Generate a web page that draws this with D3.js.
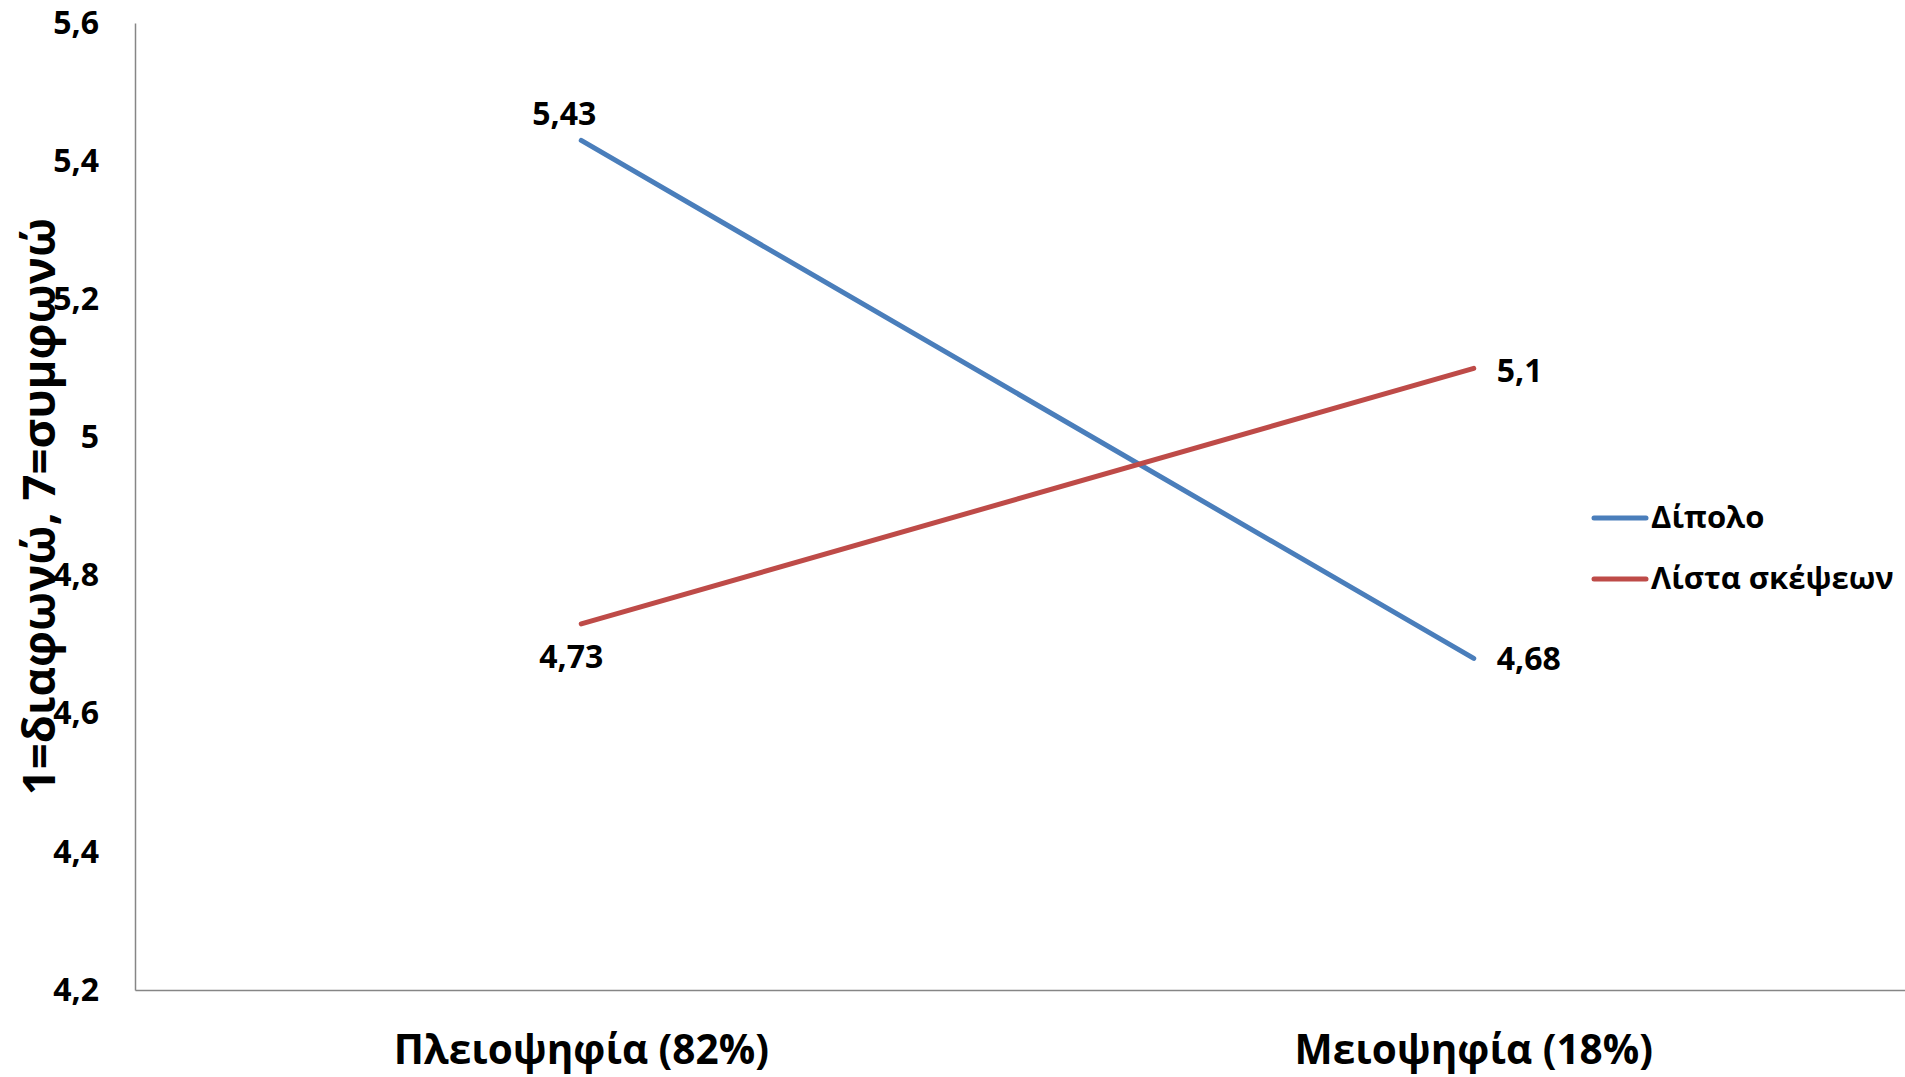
<!DOCTYPE html>
<html><head><meta charset="utf-8">
<script src="https://cdn.jsdelivr.net/npm/d3@7"></script>
<style>
html,body{margin:0;padding:0;background:#fff;}
text{font-family:"Open Sans",sans-serif;font-weight:700;fill:#000;}
</style></head>
<body><svg id="c" width="1905" height="1077"></svg>
<script>
const categories = ["Πλειοψηφία (82%)", "Μειοψηφία (18%)"];
const seriesNames = ["Δίπολο", "Λίστα σκέψεων"];
const dipoloValues = [5.43, 4.68];
const listaValues = [4.73, 5.1];
const dipoloLabels = ["5,43", "4,68"];
const listaLabels = ["4,73", "5,1"];
const yTicks = [4.2, 4.4, 4.6, 4.8, 5.0, 5.2, 5.4, 5.6];
const yTickLabels = ["4,2", "4,4", "4,6", "4,8", "5", "5,2", "5,4", "5,6"];
const yTitle = "1=διαφωνώ, 7=συμφωνώ";
const colors = ["#4a7ebb", "#be4b48"];

(function () {
const svg = d3.select("#c");
const mLeft = 135, mTop = 23, mBottom = 990, mRight = 1920;

const x = d3.scaleBand().domain(categories).range([mLeft, mRight]).padding(0);
const y = d3.scaleLinear().domain([4.2, 5.6]).range([mBottom, mTop]);
const cx = c => x(c) + x.bandwidth() / 2;

// y axis
const yAxis = svg.append("g").attr("transform", `translate(${mLeft},0)`)
  .call(d3.axisLeft(y).tickValues(yTicks).tickSize(0).tickPadding(36)
    .tickFormat((d, i) => yTickLabels[i]));
yAxis.select(".domain").attr("stroke", "#868686").attr("stroke-width", 1.5);
yAxis.selectAll("text").style("font-size", "32px").attr("fill", "#000");

// x axis
const xAxis = svg.append("g").attr("transform", `translate(0,${mBottom})`)
  .call(d3.axisBottom(x).tickSize(0).tickPadding(45));
xAxis.select(".domain").attr("stroke", "#868686").attr("stroke-width", 1.5);
xAxis.selectAll("text").style("font-size", "40.5px").attr("fill", "#000");

// y title
svg.append("text")
  .attr("transform", `translate(55,${(mTop + mBottom) / 2}) rotate(-90)`)
  .attr("text-anchor", "middle")
  .style("font-size", "45.5px")
  .text(yTitle);

const line = d3.line().x((d, i) => cx(categories[i])).y(d => y(d));
const series = [dipoloValues, listaValues];
series.forEach((vals, si) => {
  svg.append("path").datum(vals)
    .attr("d", line).attr("fill", "none")
    .attr("stroke", colors[si]).attr("stroke-width", 5)
    .attr("stroke-linecap", "round").attr("stroke-linejoin", "round");
});

// data labels
const lab = (txt, px, py, anchor) => svg.append("text")
  .attr("x", px).attr("y", py).attr("text-anchor", anchor)
  .style("font-size", "32px").text(txt);
lab(dipoloLabels[0], cx(categories[0]) - 17, y(dipoloValues[0]) - 15, "middle");
lab(dipoloLabels[1], cx(categories[1]) + 23, y(dipoloValues[1]) + 12, "start");
lab(listaLabels[0], cx(categories[0]) - 10, y(listaValues[0]) + 44, "middle");
lab(listaLabels[1], cx(categories[1]) + 23, y(listaValues[1]) + 14, "start");

// legend
const lg = svg.append("g");
seriesNames.forEach((n, i) => {
  const ly = 518 + i * 61;
  lg.append("line").attr("x1", 1594).attr("x2", 1646).attr("y1", ly).attr("y2", ly)
    .attr("stroke", colors[i]).attr("stroke-width", 5).attr("stroke-linecap", "round");
  lg.append("text").attr("x", 1651).attr("y", ly + 10).style("font-size", "31px").text(n);
});
})();
</script></body></html>
